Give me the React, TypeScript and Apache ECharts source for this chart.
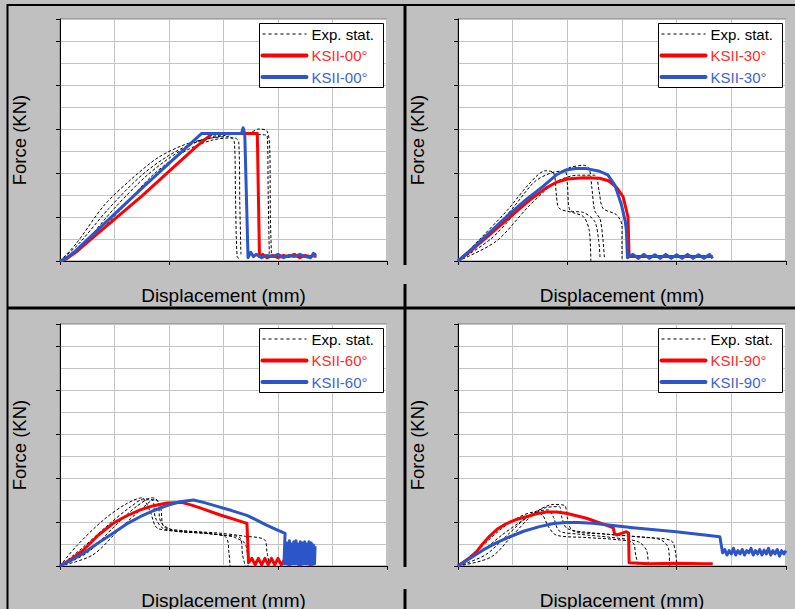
import React, { useEffect, useRef } from "react";
import * as echarts from "echarts";

// ---------- texts ----------
const yTitle = "Force (KN)";
const xTitle = "Displacement (mm)";
const expLabel = "Exp. stat.";
const panelLabels = ["KSII-00°", "KSII-30°", "KSII-60°", "KSII-90°"];

// ---------- axis ranges (grid units) ----------
const xMin = 0, xMax = 6, xInterval = 2;
const yMin = 0, yMax = 11, yInterval = 2;

// ---------- Panel 1 (00°) ----------
const p1Red = [[0,0],[0.12,0.1],[0.3,0.42],[0.5,0.85],[1.5,2.95],[2.5,5.2],[2.8,5.8],[3.62,5.8],[3.64,3.0],[3.66,0.2],[3.72,0.3],[3.8,0.15],[3.9,0.25],[4.0,0.15],[4.1,0.25],[4.2,0.2],[4.3,0.3],[4.4,0.15],[4.5,0.25],[4.6,0.2],[4.68,0.3],[4.68,0.15]];
const p1Blue = [[0,0],[0.1,0.1],[0.28,0.45],[0.45,0.85],[1.5,3.3],[2.4,5.35],[2.6,5.8],[3.33,5.8],[3.36,6.05],[3.39,5.8],[3.42,3.0],[3.45,0.15],[3.5,0.4],[3.55,0.2],[3.6,0.3],[3.7,0.15],[3.8,0.25],[3.9,0.2],[4.0,0.3],[4.1,0.15],[4.2,0.25],[4.3,0.2],[4.4,0.3],[4.5,0.2],[4.6,0.15],[4.65,0.35],[4.68,0.2]];
const p1Exp1 = [[0,0],[0.3,0.8],[0.8,2.5],[1.3,3.7],[1.8,4.7],[2.3,5.3],[2.8,5.6],[3.1,5.65],[3.2,5.4],[3.22,3.0],[3.25,0.2],[3.3,0.1]];
const p1Exp2 = [[0,0],[0.35,0.8],[0.9,2.4],[1.5,3.9],[2.0,4.8],[2.5,5.4],[3.0,5.7],[3.5,5.85],[3.65,6.0],[3.8,5.9],[3.85,5.0],[3.86,2.0],[3.88,0.3]];
const p1Exp3 = [[0,0],[0.4,0.7],[1.0,2.4],[1.6,3.9],[2.2,5.0],[2.7,5.6],[3.3,5.8],[3.6,5.75],[3.8,5.7],[3.82,3.0],[3.84,0.3]];
const p1Exp4 = [[0,0],[0.45,0.7],[1.1,2.3],[1.7,3.9],[2.3,5.0],[2.8,5.5],[3.2,5.6],[3.28,5.4],[3.3,2.5],[3.32,0.3]];

// ---------- Panel 2 (30°) ----------
const p2Red = [[0,0],[0.3,0.6],[0.95,2.0],[1.3,2.75],[1.6,3.3],[1.8,3.58],[2.0,3.73],[2.3,3.78],[2.59,3.76],[2.75,3.65],[2.9,3.35],[3.02,2.92],[3.11,2.0],[3.13,0.2],[3.5,0.2],[4.0,0.2],[4.66,0.2]];
const p2Blue = [[0,0],[0.3,0.65],[0.88,2.0],[1.25,2.8],[1.55,3.38],[1.8,3.92],[1.98,4.14],[2.15,4.2],[2.35,4.2],[2.59,4.08],[2.74,3.91],[2.87,3.45],[2.99,2.55],[3.06,1.8],[3.08,1.4],[3.1,0.15],[3.2,0.3],[3.3,0.12],[3.4,0.3],[3.5,0.12],[3.6,0.28],[3.7,0.12],[3.8,0.3],[3.9,0.12],[4.0,0.28],[4.1,0.12],[4.2,0.3],[4.3,0.12],[4.4,0.28],[4.5,0.12],[4.6,0.3],[4.66,0.12]];
const p2Exp1 = [[0,0],[0.4,1.0],[0.9,2.3],[1.3,3.5],[1.6,4.1],[1.75,4.0],[1.8,3.0],[1.85,2.4],[2.1,2.2],[2.3,2.0],[2.4,1.4],[2.43,0]];
const p2Exp2 = [[0,0],[0.5,1.0],[1.0,2.4],[1.4,3.6],[1.7,4.0],[1.95,4.1],[2.0,3.5],[2.05,2.3],[2.3,2.2],[2.5,1.8],[2.57,1.0],[2.6,0.1]];
const p2Exp3 = [[0,0],[0.6,1.0],[1.1,2.3],[1.6,3.5],[2.0,4.2],[2.3,4.35],[2.4,4.2],[2.45,3.3],[2.5,2.3],[2.6,1.9],[2.65,1.0],[2.68,0.1]];
const p2Exp4 = [[0,0],[0.7,0.9],[1.3,2.5],[1.8,3.6],[2.2,3.9],[2.5,3.9],[2.58,3.2],[2.65,2.4],[2.9,2.1],[3.0,1.6],[3.0,0.1]];

// ---------- Panel 3 (60°) ----------
const p3Red = [[0,0],[0.2,0.3],[0.43,0.73],[0.7,1.4],[0.98,1.95],[1.2,2.25],[1.47,2.55],[1.7,2.73],[1.96,2.86],[2.23,2.89],[2.4,2.78],[2.57,2.64],[2.94,2.32],[3.2,2.12],[3.43,1.94],[3.46,0.15],[3.52,0.35],[3.58,0.05],[3.64,0.35],[3.7,0.05],[3.76,0.35],[3.82,0.05],[3.88,0.35],[3.94,0.05],[4.0,0.35],[4.06,0.05],[4.12,0.3],[4.2,0.05],[4.3,0.2],[4.4,0.05],[4.5,0.2],[4.6,0.05],[4.68,0.15]];
const p3Blue = [[0,0],[0.2,0.25],[0.43,0.58],[0.7,1.05],[0.98,1.5],[1.25,1.95],[1.47,2.24],[1.7,2.5],[1.96,2.75],[2.2,2.92],[2.45,3.0],[2.65,2.88],[2.87,2.72],[3.15,2.52],[3.43,2.3],[3.6,2.1],[3.79,1.86],[3.95,1.68],[4.13,1.48],[4.11,0.1],[4.13,1.1],[4.15,0.1],[4.17,1.05],[4.19,0.1],[4.21,1.15],[4.23,0.1],[4.25,1.0],[4.27,0.1],[4.29,1.1],[4.31,0.1],[4.33,1.15],[4.35,0.1],[4.37,1.0],[4.39,0.1],[4.41,1.1],[4.43,0.1],[4.45,1.05],[4.47,0.1],[4.49,1.1],[4.51,0.1],[4.53,1.0],[4.55,0.1],[4.57,1.1],[4.59,0.1],[4.61,1.05],[4.63,0.1],[4.65,0.95],[4.67,0.1],[4.68,0.9]];
const p3Exp1 = [[0,0],[0.4,0.8],[0.9,1.9],[1.3,2.7],[1.55,3.05],[1.7,3.0],[1.75,2.2],[1.9,1.7],[2.3,1.55],[2.8,1.45],[3.05,1.3],[3.1,0.6],[3.12,0]];
const p3Exp2 = [[0,0],[0.5,0.6],[1.0,1.8],[1.4,2.7],[1.7,3.1],[1.8,2.9],[1.85,2.0],[2.1,1.6],[2.6,1.5],[3.0,1.4],[3.2,1.3],[3.4,1.0],[3.45,0]];
const p3Exp3 = [[0,0],[0.6,0.5],[1.1,1.7],[1.5,2.6],[1.75,3.05],[1.85,2.6],[1.9,1.8],[2.3,1.6],[2.9,1.5],[3.4,1.35],[3.75,1.2],[3.8,0.6],[3.84,0.1]];
const p3Exp4 = [[0,0],[0.3,0.9],[0.8,2.1],[1.2,2.8],[1.5,3.1],[1.65,2.5],[1.8,1.7],[2.5,1.55],[3.0,1.4],[3.3,1.3],[3.35,0.5],[3.4,0]];

// ---------- Panel 4 (90°) ----------
const p4Red = [[0,0],[0.2,0.35],[0.34,0.65],[0.45,1.0],[0.58,1.36],[0.72,1.68],[0.88,1.92],[1.05,2.1],[1.25,2.24],[1.45,2.38],[1.62,2.45],[1.8,2.45],[1.98,2.4],[2.35,2.17],[2.71,1.86],[2.84,1.74],[2.86,1.5],[2.9,1.41],[2.99,1.48],[3.08,1.56],[3.12,1.5],[3.13,0.15],[3.5,0.1],[4.0,0.12],[4.5,0.1],[4.66,0.1]];
const p4Blue = [[0,0],[0.2,0.32],[0.46,0.73],[0.7,1.05],[0.95,1.33],[1.2,1.58],[1.49,1.79],[1.75,1.93],[1.98,1.98],[2.2,1.98],[2.47,1.94],[3.2,1.74],[3.99,1.56],[4.79,1.33],[4.84,0.6],[4.88,0.75],[4.92,0.5],[4.96,0.7],[5.0,0.55],[5.04,0.8],[5.08,0.5],[5.12,0.7],[5.16,0.55],[5.2,0.75],[5.24,0.5],[5.28,0.7],[5.32,0.6],[5.36,0.8],[5.4,0.5],[5.44,0.7],[5.48,0.55],[5.52,0.75],[5.56,0.5],[5.6,0.72],[5.64,0.55],[5.68,0.8],[5.72,0.5],[5.76,0.7],[5.8,0.55],[5.84,0.75],[5.88,0.45],[5.92,0.7],[5.96,0.55],[6.0,0.7]];
const p4Exp1 = [[0,0],[0.4,0.6],[0.8,1.4],[1.2,2.1],[1.5,2.5],[1.65,2.55],[1.75,2.2],[1.85,1.6],[2.2,1.45],[2.8,1.3],[3.3,1.1],[3.45,0.7],[3.48,0]];
const p4Exp2 = [[0,0],[0.5,0.5],[0.9,1.4],[1.3,2.3],[1.6,2.65],[1.85,2.7],[1.9,2.2],[2.0,1.7],[2.5,1.5],[3.2,1.35],[3.7,1.2],[3.85,0.8],[3.87,0]];
const p4Exp3 = [[0,0],[0.6,0.4],[1.0,1.4],[1.4,2.4],[1.75,2.8],[1.95,2.75],[2.0,2.2],[2.1,1.6],[2.7,1.45],[3.4,1.3],[3.9,1.15],[3.98,0.6],[4.0,0]];
const p4Exp4 = [[0,0],[0.35,0.7],[0.75,1.6],[1.1,2.2],[1.4,2.45],[1.55,2.3],[1.65,1.8],[1.8,1.4],[2.3,1.3],[2.9,1.2],[3.2,1.05],[3.25,0.5],[3.3,0]];

const panels = [
  { red: p1Red, blue: p1Blue, exp: [p1Exp1, p1Exp2, p1Exp3, p1Exp4] },
  { red: p2Red, blue: p2Blue, exp: [p2Exp1, p2Exp2, p2Exp3, p2Exp4] },
  { red: p3Red, blue: p3Blue, exp: [p3Exp1, p3Exp2, p3Exp3, p3Exp4] },
  { red: p4Red, blue: p4Blue, exp: [p4Exp1, p4Exp2, p4Exp3, p4Exp4] },
];

// ---------- layout / style ----------
const FONT = '"Liberation Sans", Arial, Helvetica, sans-serif';
const RED = "#ff0000";
const BLUE = "#2b55c8";
const RED_TXT = "#ff2a2a";
const BLUE_TXT = "#3d64d6";
const grids = [
  { left: 60, top: 19, width: 327, height: 242 },
  { left: 458, top: 19, width: 328, height: 242 },
  { left: 60, top: 324, width: 327, height: 242 },
  { left: 458, top: 324, width: 328, height: 242 },
];

export default function App() {
  const ref = useRef<HTMLDivElement>(null);
  useEffect(() => {
    if (!ref.current) return;
    const chart = echarts.init(ref.current, undefined, { renderer: "svg" });

    const xAxes: any[] = [];
    const yAxes: any[] = [];
    const series: any[] = [];
    const graphic: any[] = [];

    grids.forEach((g, i) => {
      xAxes.push({
        type: "value", gridIndex: i, min: xMin, max: xMax, interval: xInterval,
        axisLabel: { show: false },
        axisLine: { show: true, lineStyle: { color: "#000", width: 1 } },
        axisTick: { show: true, length: 4, lineStyle: { color: "#000" } },
        splitLine: { show: true, lineStyle: { color: "#c4c4c4", width: 1 } },
        minorTick: { show: false, splitNumber: 2 },
        minorSplitLine: { show: true, lineStyle: { color: "#c4c4c4", width: 1 } },
      });
      yAxes.push({
        type: "value", gridIndex: i, min: yMin, max: yMax, interval: yInterval,
        axisLabel: { show: false },
        axisLine: { show: true, lineStyle: { color: "#000", width: 1 } },
        axisTick: { show: true, length: 4, lineStyle: { color: "#000" } },
        splitLine: { show: true, lineStyle: { color: "#c4c4c4", width: 1 } },
        minorTick: { show: false, splitNumber: 2 },
        minorSplitLine: { show: true, lineStyle: { color: "#c4c4c4", width: 1 } },
      });
      const p = panels[i];
      p.exp.forEach((d, k) => {
        series.push({
          type: "line", name: expLabel + " " + (k + 1), xAxisIndex: i, yAxisIndex: i,
          data: d, showSymbol: false, smooth: 0.3, silent: true,
          lineStyle: { color: "#000", width: 1, type: [3, 2] }, z: 2,
        });
      });
      series.push({
        type: "line", name: panelLabels[i] + " red", xAxisIndex: i, yAxisIndex: i,
        data: p.red, showSymbol: false, silent: true,
        lineStyle: { color: RED, width: 3, join: "round" }, z: 3,
      });
      series.push({
        type: "line", name: panelLabels[i] + " blue", xAxisIndex: i, yAxisIndex: i,
        data: p.blue, showSymbol: false, silent: true,
        lineStyle: { color: BLUE, width: 3, join: "round" }, z: 4,
      });

      // axis titles
      graphic.push({
        type: "text", x: g.left - 40.5, y: g.top + g.height / 2, rotation: Math.PI / 2, z: 50,
        style: { text: yTitle, font: `18.5px ${FONT}`, fill: "#000", textAlign: "center", textVerticalAlign: "middle" },
      });
      graphic.push({
        type: "text", x: g.left + g.width / 2, y: g.top + g.height + 34, z: 50,
        style: { text: xTitle, font: `19px ${FONT}`, fill: "#000", textAlign: "center", textVerticalAlign: "middle" },
      });

      // legend
      const lr = g.left + g.width - 3.5;
      const lx = lr - 124;
      const ly = g.top + 4.5;
      graphic.push({
        type: "rect", z: 60, shape: { x: lx, y: ly, width: 124, height: 64 },
        style: { fill: "#fff", stroke: "#000", lineWidth: 1 },
      });
      const rows = [
        { t: expLabel, c: "#000", tc: "#000", w: 1, dash: [3, 3] },
        { t: panelLabels[i], c: RED, tc: RED_TXT, w: 4, dash: null },
        { t: panelLabels[i], c: BLUE, tc: BLUE_TXT, w: 4, dash: null },
      ];
      rows.forEach((r, k) => {
        const cy = ly + 10.5 + k * 21.5;
        graphic.push({
          type: "line", z: 61, shape: { x1: lx + 3, y1: cy, x2: lx + 47, y2: cy },
          style: { stroke: r.c, lineWidth: r.w, lineDash: r.dash || undefined, lineCap: r.dash ? "butt" : "round" },
        });
        graphic.push({
          type: "text", z: 61, x: lx + 52, y: cy,
          style: { text: r.t, font: `15px ${FONT}`, fill: r.tc, textAlign: "left", textVerticalAlign: "middle" },
        });
      });
    });

    // panel frames
    const frame = (x1: number, y1: number, x2: number, y2: number, w: number) =>
      graphic.push({ type: "line", z: 40, shape: { x1, y1, x2, y2 }, style: { stroke: "#000", lineWidth: w } });
    frame(7, 5, 795, 5, 2);
    frame(7.5, 4, 7.5, 609, 2);
    frame(7, 308, 795, 308, 3);
    frame(405, 4, 405, 265, 3);
    frame(405, 284, 405, 567, 3);
    frame(405, 589, 405, 609, 3);

    chart.setOption({
      animation: false,
      backgroundColor: "#c0c0c0",
      textStyle: { fontFamily: FONT },
      grid: grids.map((g) => ({ ...g, show: true, backgroundColor: "#fff", borderColor: "#808080", borderWidth: 1, containLabel: false })),
      xAxis: xAxes,
      yAxis: yAxes,
      series,
      graphic,
    });
    return () => chart.dispose();
  }, []);
  return <div ref={ref} style={{ position: "fixed", left: 0, top: 0, width: 795, height: 609 }} />;
}
